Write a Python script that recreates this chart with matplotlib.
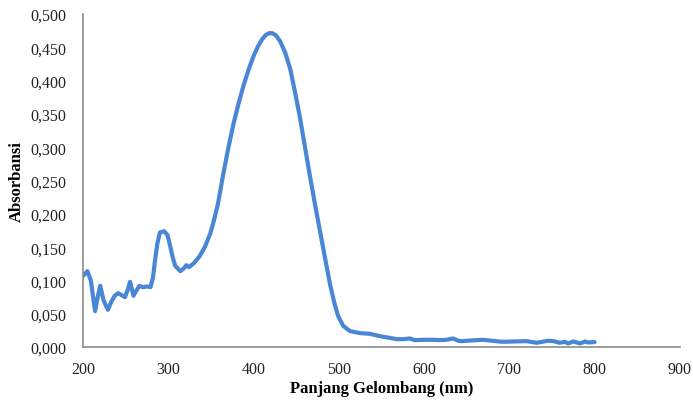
import matplotlib.pyplot as plt
from matplotlib.ticker import FuncFormatter

# wavelength (nm) and absorbance
wavelength = [200, 205, 209, 214, 217, 220, 224, 229, 233, 237, 241, 245, 249, 252,
              255, 257, 259, 262, 266, 270, 275, 279, 282, 284, 287, 290, 295, 299,
              302, 305, 308, 314, 318, 321, 324, 330, 337, 343, 349, 353, 358, 364,
              370, 376, 382, 388, 394, 400, 405, 410, 414, 418, 422, 426, 431, 437,
              443, 448, 454, 460, 466, 472, 478, 484, 490, 495, 499, 505, 513, 525,
              536, 550, 568, 576, 583, 589, 600, 610, 618, 626, 634, 640, 644, 655,
              669, 680, 692, 705, 720, 732, 745, 752, 759, 765, 769, 775, 783, 789,
              792, 798, 800]
absorbance = [0.107, 0.114, 0.100, 0.054, 0.075, 0.092, 0.070, 0.056, 0.068, 0.077, 0.081,
              0.078, 0.075, 0.085, 0.098, 0.088, 0.077, 0.084, 0.092, 0.090, 0.091, 0.090,
              0.105, 0.127, 0.155, 0.172, 0.174, 0.168, 0.152, 0.135, 0.122, 0.114, 0.118,
              0.123, 0.120, 0.126, 0.137, 0.151, 0.170, 0.188, 0.214, 0.257, 0.297, 0.333,
              0.364, 0.392, 0.416, 0.437, 0.451, 0.462, 0.468, 0.471, 0.471, 0.468, 0.459,
              0.442, 0.417, 0.386, 0.347, 0.302, 0.257, 0.214, 0.173, 0.132, 0.092, 0.065,
              0.047, 0.032, 0.024, 0.021, 0.020, 0.016, 0.012, 0.012, 0.013, 0.0105, 0.011,
              0.011, 0.0105, 0.011, 0.013, 0.0095, 0.009, 0.010, 0.011, 0.0095, 0.008,
              0.0085, 0.009, 0.0065, 0.0095, 0.009, 0.0065, 0.008, 0.0055, 0.0085, 0.0055,
              0.0085, 0.007, 0.0075, 0.0075]

plt.rcParams['font.family'] = ['Liberation Serif', 'DejaVu Serif']

fig = plt.figure(figsize=(6.93, 4.02), dpi=100)
ax = fig.add_axes([0.12, 0.134, 0.861, 0.829])

ax.plot(wavelength, absorbance, color='#4a86d6', lw=3, solid_capstyle='round',
        solid_joinstyle='round')

ax.set_xlim(200, 900)
ax.set_ylim(0, 0.5)
ax.set_xticks(range(200, 901, 100))
ax.set_yticks([i * 0.05 for i in range(11)])
ax.yaxis.set_major_formatter(FuncFormatter(lambda v, p: f'{v:.3f}'.replace('.', ',')))
ax.tick_params(length=0, labelsize=11.5, colors='#222222')
ax.tick_params(axis='y', pad=12)
ax.tick_params(axis='x', pad=10)

for s in ['top', 'right']:
    ax.spines[s].set_visible(False)
for s in ['left', 'bottom']:
    ax.spines[s].set_color('#8c8c8c')
    ax.spines[s].set_linewidth(1.2)

ax.set_xlabel('Panjang Gelombang (nm)', fontsize=12, fontweight='bold', labelpad=2)
ax.set_ylabel('Absorbansi', fontsize=12, fontweight='bold', labelpad=4)

plt.savefig('out.png', dpi=100)
